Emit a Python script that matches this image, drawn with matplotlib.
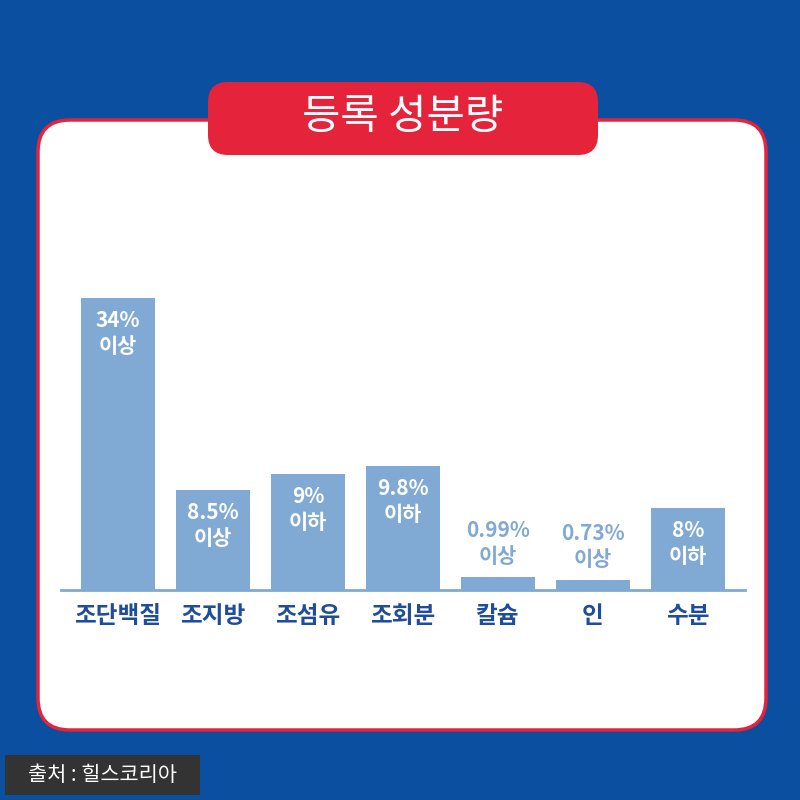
import matplotlib
matplotlib.use("Agg")
import matplotlib.pyplot as plt
from matplotlib.patches import FancyBboxPatch

plt.rcParams['font.family'] = ['Noto Sans CJK KR', 'DejaVu Sans']

categories = ["조단백질", "조지방", "조섬유", "조회분", "칼슘", "인", "수분"]
bar_heights = [292, 100, 116, 124, 13, 10, 82]
value_labels = ["34%\n이상", "8.5%\n이상", "9%\n이하", "9.8%\n이하", "0.99%\n이상", "0.73%\n이상", "8%\n이하"]
title = "등록 성분량"
source = "출처 : 힐스코리아"

BG = "#0a4fa0"
BAR = "#80a9d3"
RED = "#e5233a"
DARK = "#1f4d9a"

fig = plt.figure(figsize=(8, 8), dpi=100)
fig.patch.set_facecolor(BG)

def fx(px): return px / 800
def fy(py): return 1 - py / 800

card = FancyBboxPatch((fx(38), fy(730)), fx(728), (730 - 120) / 800,
                      boxstyle="round,pad=0,rounding_size=0.04",
                      transform=fig.transFigure, facecolor="white",
                      edgecolor=RED, linewidth=2.5, zorder=-3)
fig.patches.append(card)
tbox = FancyBboxPatch((fx(208), fy(155)), fx(390), (155 - 82) / 800,
                      boxstyle="round,pad=0,rounding_size=0.025",
                      transform=fig.transFigure, facecolor=RED,
                      edgecolor="none", zorder=-2)
fig.patches.append(tbox)
fig.text(fx(403), fy(118), title, color="white", fontsize=30,
         ha="center", va="center", zorder=2)

src = FancyBboxPatch((fx(5), fy(795)), fx(195), 40 / 800,
                     boxstyle="square,pad=0", transform=fig.transFigure,
                     facecolor="#333333", edgecolor="none", zorder=-2)
fig.patches.append(src)
fig.text(fx(102), fy(775), source, color="white", fontsize=15,
         ha="center", va="center")

ax = fig.add_axes([fx(61), fy(590), fx(684), 300 / 800], zorder=5)
ax.patch.set_visible(False)
x = range(len(categories))
ax.bar(x, bar_heights, width=0.78, color=BAR)
ax.set_xlim(-0.6, 6.6)
ax.set_ylim(0, 300)
for s in ["top", "right", "left"]:
    ax.spines[s].set_visible(False)
ax.spines["bottom"].set_color(BAR)
ax.spines["bottom"].set_linewidth(2)
ax.set_yticks([])
ax.set_xticks(list(x))
ax.set_xticklabels(categories, fontsize=17, color=DARK, fontweight="bold")
ax.tick_params(axis="x", length=0, pad=10)

for i, (h, lab) in enumerate(zip(bar_heights, value_labels)):
    if h > 50:
        ax.text(i, h - 12, lab, ha="center", va="top", color="white",
                fontsize=15, fontweight="bold", linespacing=1.3)
    else:
        ax.text(i, h + 10, lab, ha="center", va="bottom", color=BAR,
                fontsize=15, fontweight="bold", linespacing=1.3)

fig.savefig("out.png", dpi=100, facecolor=BG)
